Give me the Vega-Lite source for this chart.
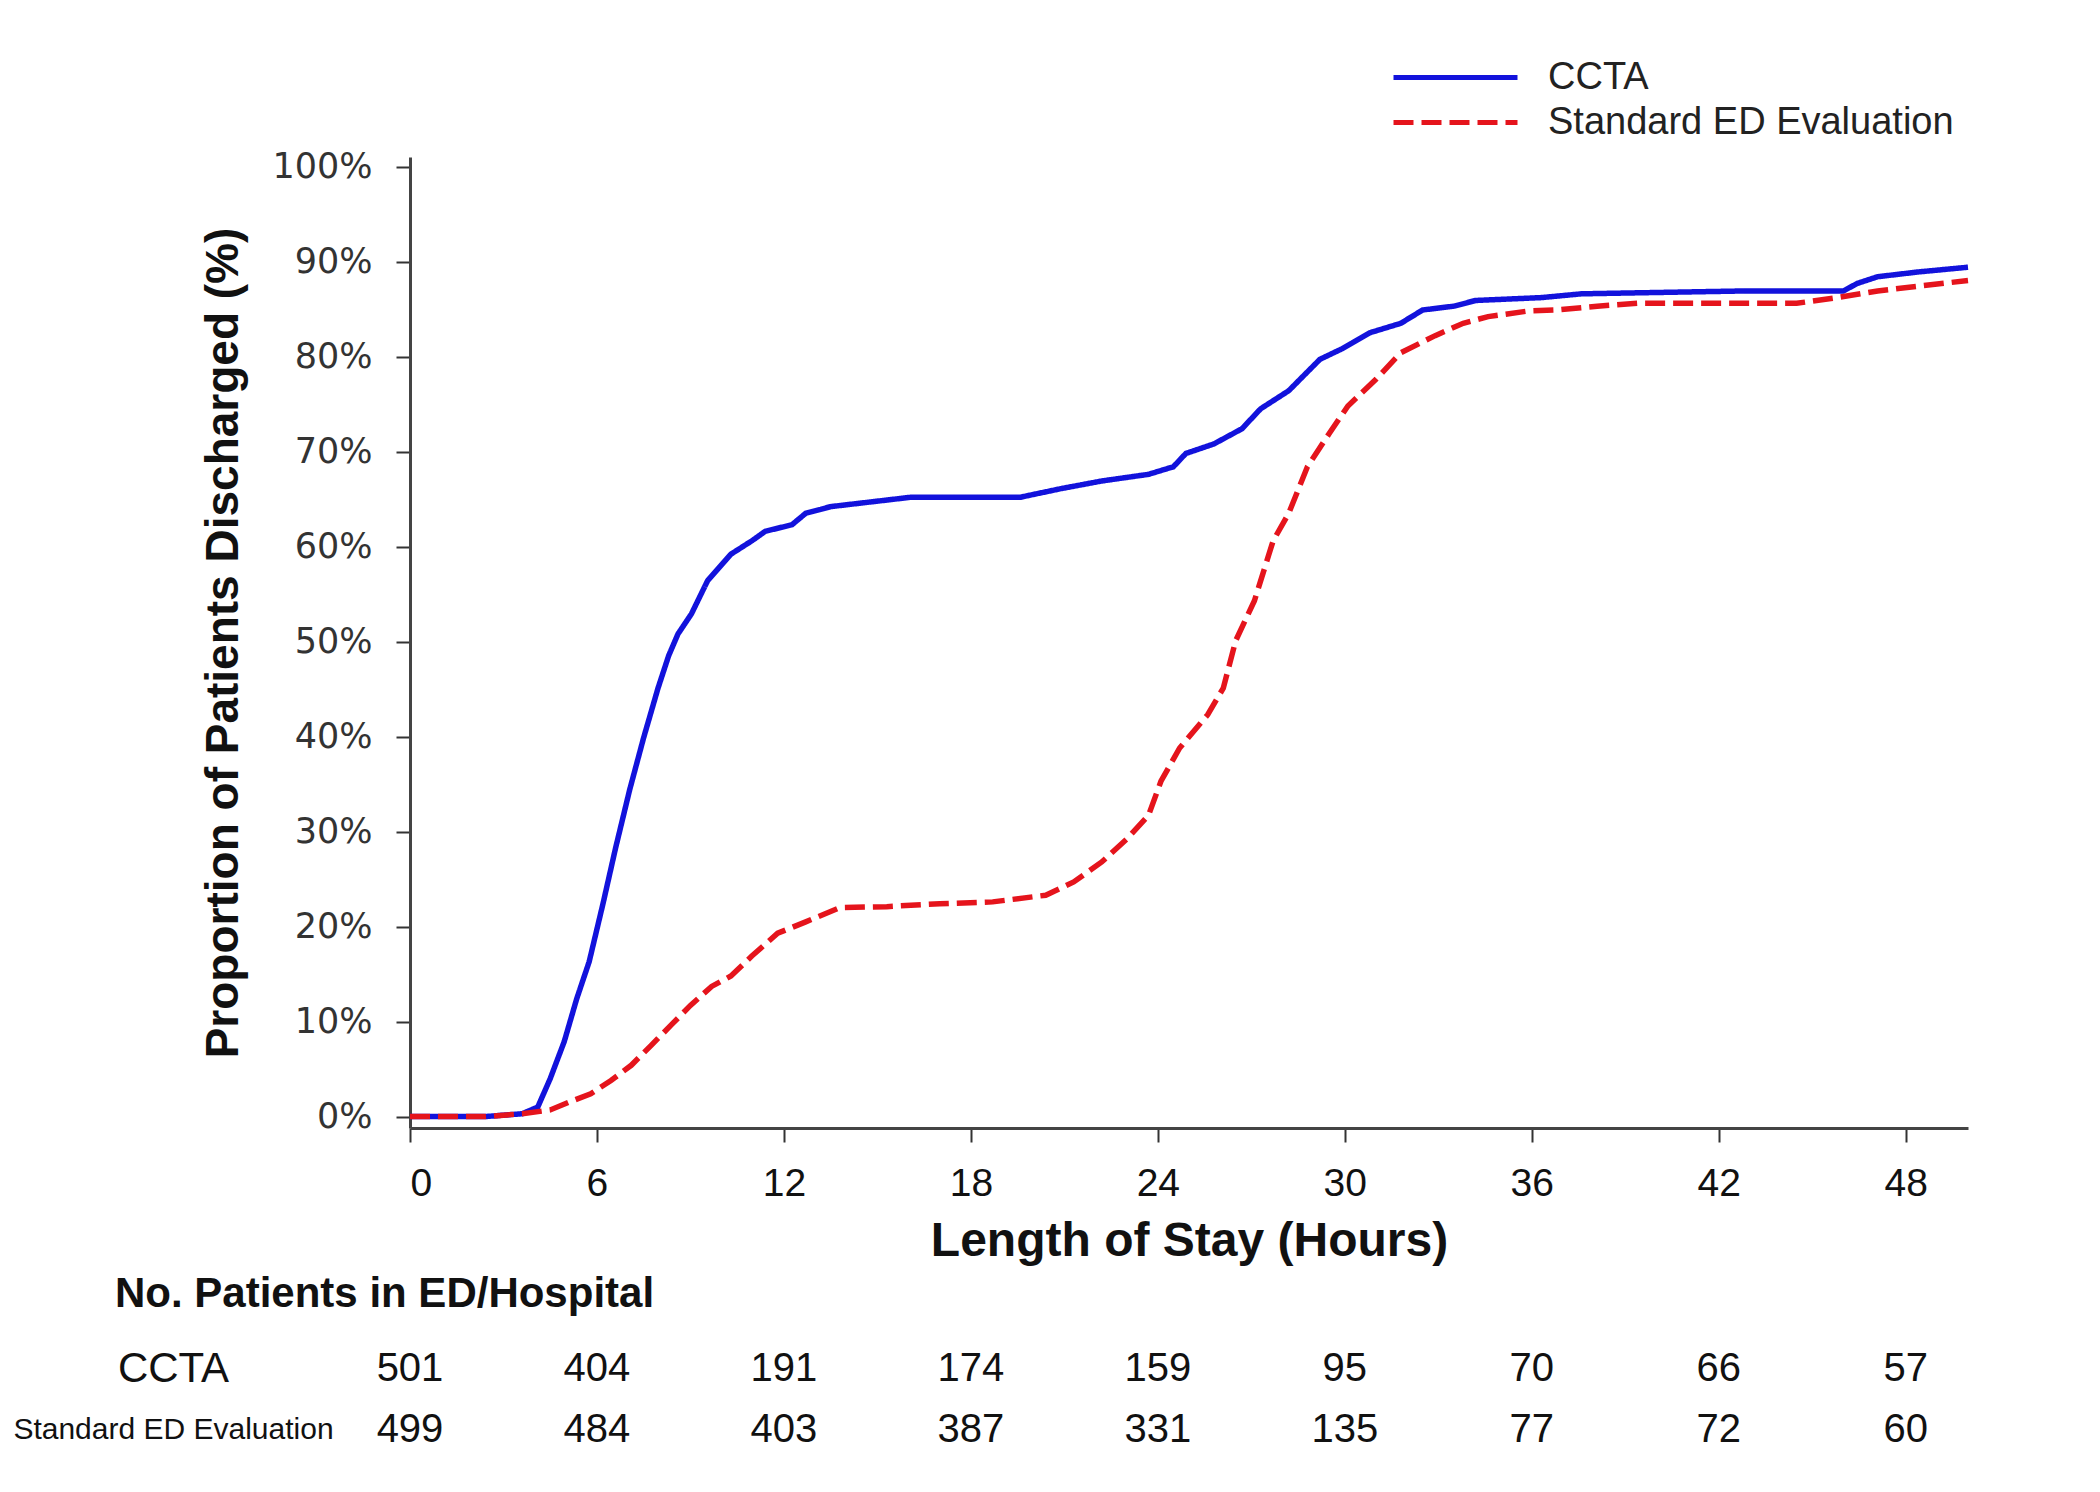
{
  "$schema": "https://vega.github.io/schema/vega-lite/v6.json",
  "background": "white",
  "padding": {"left": 12, "top": 55, "right": 40, "bottom": 30},
  "config": {"view": {"stroke": null}, "font": "Liberation Sans"},
  "bounds": "flush",
  "spacing": 210,
  "resolve": {
    "scale": {"x": "independent", "y": "independent", "color": "independent", "strokeDash": "independent"},
    "legend": {"color": "independent", "strokeDash": "independent"}
  },
  "datasets": {
    "curves": [
      {"series": "CCTA", "hour": 0, "pct": 0},
      {"series": "CCTA", "hour": 2.4, "pct": 0},
      {"series": "CCTA", "hour": 3.6, "pct": 0.3},
      {"series": "CCTA", "hour": 4.1, "pct": 1.0},
      {"series": "CCTA", "hour": 4.5, "pct": 4.0},
      {"series": "CCTA", "hour": 4.95, "pct": 7.9},
      {"series": "CCTA", "hour": 5.35, "pct": 12.4},
      {"series": "CCTA", "hour": 5.75, "pct": 16.3},
      {"series": "CCTA", "hour": 6.2, "pct": 22.5},
      {"series": "CCTA", "hour": 6.6, "pct": 28.3},
      {"series": "CCTA", "hour": 7.05, "pct": 34.4},
      {"series": "CCTA", "hour": 7.5, "pct": 39.9},
      {"series": "CCTA", "hour": 7.96, "pct": 45.1},
      {"series": "CCTA", "hour": 8.3, "pct": 48.5},
      {"series": "CCTA", "hour": 8.6, "pct": 50.8},
      {"series": "CCTA", "hour": 9.03, "pct": 52.9},
      {"series": "CCTA", "hour": 9.55, "pct": 56.4},
      {"series": "CCTA", "hour": 10.3, "pct": 59.2},
      {"series": "CCTA", "hour": 10.97, "pct": 60.6},
      {"series": "CCTA", "hour": 11.4, "pct": 61.6},
      {"series": "CCTA", "hour": 12.26, "pct": 62.3},
      {"series": "CCTA", "hour": 12.7, "pct": 63.5},
      {"series": "CCTA", "hour": 13.5, "pct": 64.2},
      {"series": "CCTA", "hour": 14.8, "pct": 64.7},
      {"series": "CCTA", "hour": 16.1, "pct": 65.2},
      {"series": "CCTA", "hour": 19.6, "pct": 65.2},
      {"series": "CCTA", "hour": 20.9, "pct": 66.1},
      {"series": "CCTA", "hour": 22.2, "pct": 66.9},
      {"series": "CCTA", "hour": 23.7, "pct": 67.6},
      {"series": "CCTA", "hour": 24.5, "pct": 68.4},
      {"series": "CCTA", "hour": 24.9, "pct": 69.8},
      {"series": "CCTA", "hour": 25.8, "pct": 70.8},
      {"series": "CCTA", "hour": 26.7, "pct": 72.4},
      {"series": "CCTA", "hour": 27.3, "pct": 74.5},
      {"series": "CCTA", "hour": 28.2, "pct": 76.4},
      {"series": "CCTA", "hour": 29.2, "pct": 79.7},
      {"series": "CCTA", "hour": 29.9, "pct": 80.8},
      {"series": "CCTA", "hour": 30.8, "pct": 82.5},
      {"series": "CCTA", "hour": 31.8, "pct": 83.5},
      {"series": "CCTA", "hour": 32.5, "pct": 84.9},
      {"series": "CCTA", "hour": 33.5, "pct": 85.3},
      {"series": "CCTA", "hour": 34.2, "pct": 85.9},
      {"series": "CCTA", "hour": 36.3, "pct": 86.2},
      {"series": "CCTA", "hour": 37.6, "pct": 86.6},
      {"series": "CCTA", "hour": 42.8, "pct": 86.9},
      {"series": "CCTA", "hour": 46.0, "pct": 86.9},
      {"series": "CCTA", "hour": 46.45, "pct": 87.7},
      {"series": "CCTA", "hour": 47.1, "pct": 88.4},
      {"series": "CCTA", "hour": 48.4, "pct": 88.9},
      {"series": "CCTA", "hour": 50, "pct": 89.4},
      {"series": "Standard ED Evaluation", "hour": 0, "pct": 0},
      {"series": "Standard ED Evaluation", "hour": 2.4, "pct": 0},
      {"series": "Standard ED Evaluation", "hour": 3.6, "pct": 0.3},
      {"series": "Standard ED Evaluation", "hour": 4.5, "pct": 0.7},
      {"series": "Standard ED Evaluation", "hour": 5.16, "pct": 1.6},
      {"series": "Standard ED Evaluation", "hour": 5.8, "pct": 2.4},
      {"series": "Standard ED Evaluation", "hour": 6.45, "pct": 3.8},
      {"series": "Standard ED Evaluation", "hour": 7.1, "pct": 5.4},
      {"series": "Standard ED Evaluation", "hour": 7.74, "pct": 7.5},
      {"series": "Standard ED Evaluation", "hour": 8.4, "pct": 9.7},
      {"series": "Standard ED Evaluation", "hour": 9.0, "pct": 11.7},
      {"series": "Standard ED Evaluation", "hour": 9.68, "pct": 13.7},
      {"series": "Standard ED Evaluation", "hour": 10.3, "pct": 14.8},
      {"series": "Standard ED Evaluation", "hour": 10.97, "pct": 16.9},
      {"series": "Standard ED Evaluation", "hour": 11.8, "pct": 19.3},
      {"series": "Standard ED Evaluation", "hour": 12.7, "pct": 20.5},
      {"series": "Standard ED Evaluation", "hour": 13.8, "pct": 22.0},
      {"series": "Standard ED Evaluation", "hour": 15.3, "pct": 22.1},
      {"series": "Standard ED Evaluation", "hour": 17.0, "pct": 22.4},
      {"series": "Standard ED Evaluation", "hour": 18.7, "pct": 22.6},
      {"series": "Standard ED Evaluation", "hour": 20.4, "pct": 23.3},
      {"series": "Standard ED Evaluation", "hour": 21.3, "pct": 24.7},
      {"series": "Standard ED Evaluation", "hour": 22.2, "pct": 26.8},
      {"series": "Standard ED Evaluation", "hour": 23.0, "pct": 29.2},
      {"series": "Standard ED Evaluation", "hour": 23.7, "pct": 31.7},
      {"series": "Standard ED Evaluation", "hour": 24.1, "pct": 35.3},
      {"series": "Standard ED Evaluation", "hour": 24.7, "pct": 38.8},
      {"series": "Standard ED Evaluation", "hour": 25.6, "pct": 42.3},
      {"series": "Standard ED Evaluation", "hour": 26.1, "pct": 45.1},
      {"series": "Standard ED Evaluation", "hour": 26.5, "pct": 50.1},
      {"series": "Standard ED Evaluation", "hour": 27.1, "pct": 54.3},
      {"series": "Standard ED Evaluation", "hour": 27.7, "pct": 60.6},
      {"series": "Standard ED Evaluation", "hour": 28.2, "pct": 63.5},
      {"series": "Standard ED Evaluation", "hour": 28.8, "pct": 68.4},
      {"series": "Standard ED Evaluation", "hour": 29.5, "pct": 71.9},
      {"series": "Standard ED Evaluation", "hour": 30.1, "pct": 74.8},
      {"series": "Standard ED Evaluation", "hour": 31.0, "pct": 77.6},
      {"series": "Standard ED Evaluation", "hour": 31.8, "pct": 80.4},
      {"series": "Standard ED Evaluation", "hour": 32.9, "pct": 82.2},
      {"series": "Standard ED Evaluation", "hour": 33.8, "pct": 83.5},
      {"series": "Standard ED Evaluation", "hour": 34.6, "pct": 84.2},
      {"series": "Standard ED Evaluation", "hour": 35.9, "pct": 84.8},
      {"series": "Standard ED Evaluation", "hour": 36.8, "pct": 84.9},
      {"series": "Standard ED Evaluation", "hour": 38.1, "pct": 85.3},
      {"series": "Standard ED Evaluation", "hour": 39.4, "pct": 85.6},
      {"series": "Standard ED Evaluation", "hour": 44.5, "pct": 85.6},
      {"series": "Standard ED Evaluation", "hour": 45.8, "pct": 86.2},
      {"series": "Standard ED Evaluation", "hour": 47.1, "pct": 86.9},
      {"series": "Standard ED Evaluation", "hour": 48.4, "pct": 87.4},
      {"series": "Standard ED Evaluation", "hour": 50, "pct": 88.0}
    ],
    "atrisk": [
      {"group": "CCTA", "hour": 0, "n": 501},
      {"group": "CCTA", "hour": 6, "n": 404},
      {"group": "CCTA", "hour": 12, "n": 191},
      {"group": "CCTA", "hour": 18, "n": 174},
      {"group": "CCTA", "hour": 24, "n": 159},
      {"group": "CCTA", "hour": 30, "n": 95},
      {"group": "CCTA", "hour": 36, "n": 70},
      {"group": "CCTA", "hour": 42, "n": 66},
      {"group": "CCTA", "hour": 48, "n": 57},
      {"group": "Standard ED Evaluation", "hour": 0, "n": 499},
      {"group": "Standard ED Evaluation", "hour": 6, "n": 484},
      {"group": "Standard ED Evaluation", "hour": 12, "n": 403},
      {"group": "Standard ED Evaluation", "hour": 18, "n": 387},
      {"group": "Standard ED Evaluation", "hour": 24, "n": 331},
      {"group": "Standard ED Evaluation", "hour": 30, "n": 135},
      {"group": "Standard ED Evaluation", "hour": 36, "n": 77},
      {"group": "Standard ED Evaluation", "hour": 42, "n": 72},
      {"group": "Standard ED Evaluation", "hour": 48, "n": 60}
    ]
  },
  "vconcat": [
    {
      "width": 1558,
      "height": 971,
      "data": {"name": "curves"},
      "mark": {"type": "line", "strokeWidth": 5.5, "interpolate": "linear", "clip": false},
      "encoding": {
        "x": {
          "field": "hour", "type": "quantitative",
          "scale": {"domain": [0, 50], "nice": false, "zero": false},
          "axis": {
            "values": [0, 6, 12, 18, 24, 30, 36, 42, 48],
            "grid": false, "tickSize": 14, "tickWidth": 2, "tickColor": "#333",
            "domainColor": "#444", "domainWidth": 3,
            "labelFontSize": 39, "labelPadding": 22, "labelColor": "#111", "labelFont": "Liberation Sans",
            "title": "Length of Stay (Hours)", "titleFontSize": 48, "titleFontWeight": "bold",
            "titleColor": "#111", "titlePadding": 14, "titleFont": "Liberation Sans"
          }
        },
        "y": {
          "field": "pct", "type": "quantitative",
          "scale": {"domain": [-1.2, 101], "nice": false, "zero": false},
          "axis": {
            "values": [0, 10, 20, 30, 40, 50, 60, 70, 80, 90, 100],
            "labelExpr": "datum.value + '%'",
            "grid": false, "tickSize": 14, "tickWidth": 2, "tickColor": "#333",
            "domainColor": "#444", "domainWidth": 3,
            "labelFont": "DejaVu Sans", "labelFontSize": 35, "labelColor": "#333", "labelPadding": 24,
            "title": "Proportion of Patients Discharged (%)", "titleFontSize": 46, "titleFontWeight": "bold",
            "titleColor": "#111", "titlePadding": 24, "titleFont": "Liberation Sans"
          }
        },
        "color": {
          "field": "series", "type": "nominal",
          "scale": {"domain": ["CCTA", "Standard ED Evaluation"], "range": ["#1212dc", "#e5141c"]},
          "legend": {
            "title": null, "orient": "none", "legendX": 981, "legendY": -102,
            "symbolType": "stroke", "symbolSize": 15376, "symbolStrokeWidth": 5,
            "clipHeight": 45, "rowPadding": 0, "padding": 0, "labelLimit": 700,
            "labelFontSize": 38, "labelFont": "Liberation Sans", "labelColor": "#222", "labelOffset": 28,
            "encode": {"symbols": {"update": {"strokeDash": {"signal": "datum.value === 'CCTA' ? [1, 0] : [34, 11]"}}}}
          }
        },
        "strokeDash": {
          "field": "series", "type": "nominal",
          "scale": {"domain": ["CCTA", "Standard ED Evaluation"], "range": [[1, 0], [20, 8]]},
          "legend": {
            "title": null, "orient": "none", "legendX": 981, "legendY": -102,
            "symbolType": "stroke", "symbolSize": 15376, "symbolStrokeWidth": 5,
            "clipHeight": 45, "rowPadding": 0, "padding": 0, "labelLimit": 700,
            "labelFontSize": 38, "labelFont": "Liberation Sans", "labelColor": "#222", "labelOffset": 28,
            "encode": {"symbols": {"update": {"strokeDash": {"signal": "datum.value === 'CCTA' ? [1, 0] : [34, 11]"}}}}
          }
        }
      }
    },
    {
      "width": 1558,
      "height": 122,
      "title": {
        "text": "No. Patients in ED/Hospital", "anchor": "start", "frame": "group", "dx": -295,
        "fontSize": 42, "fontWeight": "bold", "color": "#111", "offset": 22, "font": "Liberation Sans"
      },
      "data": {"name": "atrisk"},
      "mark": {"type": "text", "fontSize": 40, "align": "center", "baseline": "middle", "color": "#111", "font": "Liberation Sans"},
      "encoding": {
        "x": {"field": "hour", "type": "quantitative", "scale": {"domain": [0, 50], "nice": false, "zero": false}, "axis": null},
        "y": {
          "field": "group", "type": "nominal",
          "sort": ["CCTA", "Standard ED Evaluation"],
          "scale": {"type": "point", "padding": 0.5},
          "axis": {
            "title": null, "ticks": false, "tickSize": 0, "domain": false, "grid": false,
            "labelAlign": "center", "labelBaseline": "middle", "labelPadding": 237, "labelColor": "#111",
            "labelFont": "Liberation Sans",
            "labelFontSize": {"condition": {"test": "datum.value === 'CCTA'", "value": 42}, "value": 30},
            "labelLimit": 600
          }
        },
        "text": {"field": "n", "type": "quantitative"}
      }
    }
  ]
}
